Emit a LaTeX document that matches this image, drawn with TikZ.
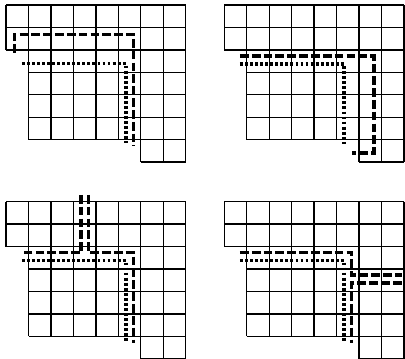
\documentclass[tikz,border=0pt]{standalone}
\usepackage{tikz}

\begin{document}
\begin{tikzpicture}[scale=0.5,yscale=-1,
  gridline/.style={line width=0.85pt},
  dashpath/.style={line width=2.3pt,dash pattern=on 5.5pt off 2pt},
  dotpath/.style={line width=2.3pt,dash pattern=on 1.8pt off 1.4pt}]
  \useasboundingbox (-0.27,-0.22) rectangle (17.77,15.77);
  \foreach \ox/\oy in {0/0,9.72/0,0/8.76,9.72/8.76}{
    \begin{scope}[shift={(\ox,\oy)}]
      \draw[gridline] (0,0) grid (8,2);
      \draw[gridline] (1,2) grid (8,6);
      \draw[gridline] (6,6) grid (8,7);
    \end{scope}
  }
  \begin{scope}
    \draw[dashpath] (0.37,2.14)--(0.37,1.32)--(5.68,1.32)--(5.68,6.28);
    \draw[dotpath] (0.70,2.61)--(5.33,2.61)--(5.33,6.17);
  \end{scope}
  \begin{scope}[shift={(9.72,0)}]
    \draw[dashpath] (0.70,2.28)--(6.66,2.28)--(6.66,6.6)--(5.67,6.6);
    \draw[dotpath] (0.70,2.64)--(5.34,2.64)--(5.34,6.2);
  \end{scope}
  \begin{scope}[shift={(0,8.76)}]
    \draw[dashpath] (3.35,-0.3)--(3.35,2.27)--(0.70,2.27);
    \draw[dashpath] (3.68,-0.3)--(3.68,2.27)--(5.67,2.27)--(5.67,6.3);
    \draw[dotpath] (0.70,2.63)--(5.34,2.63)--(5.34,6.2);
  \end{scope}
  \begin{scope}[shift={(9.72,8.76)}]
    \draw[dashpath] (0.70,2.27)--(5.67,2.27)--(5.67,3.28)--(7.9,3.28);
    \draw[dashpath] (7.9,3.63)--(5.67,3.63)--(5.67,6.3);
    \draw[dotpath] (0.70,2.63)--(5.34,2.63)--(5.34,6.2);
  \end{scope}
\end{tikzpicture}
\end{document}
